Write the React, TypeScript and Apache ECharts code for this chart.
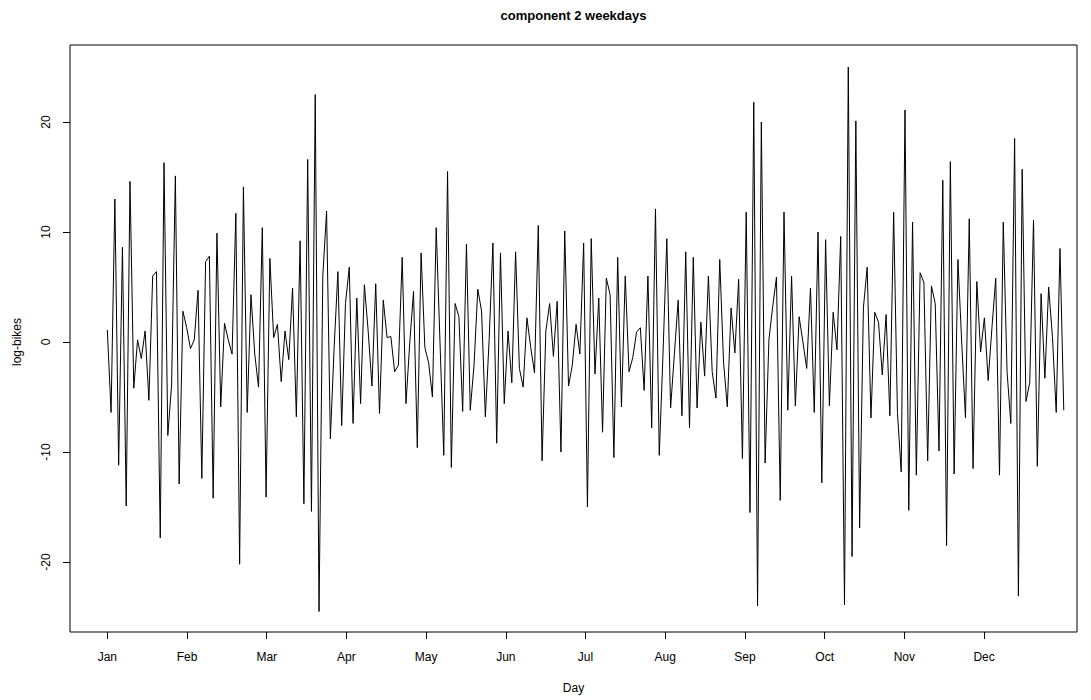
import React, { useEffect, useRef } from "react";
import * as echarts from "echarts";

const title = "component 2 weekdays";
const xTitle = "Day";
const yTitle = "log-bikes";
const monthLabels = ["Jan", "Feb", "Mar", "Apr", "May", "Jun", "Jul", "Aug", "Sep", "Oct", "Nov", "Dec"];
const yTicks = [-20, -10, 0, 10, 20];

const values = [
  1.1, -6.4, 13.0, -11.2, 8.6, -14.9, 14.6, -4.2, 0.2, -1.5,
  1.0, -5.3, 6.0, 6.4, -17.8, 16.3, -8.5, -3.9, 15.1, -12.9,
  2.8, 1.3, -0.6, 0.2, 4.7, -12.4, 7.3, 7.8, -14.2, 9.9,
  -5.9, 1.7, 0.2, -1.1, 11.7, -20.2, 14.1, -6.4, 4.3, -1.1,
  -4.1, 10.4, -14.1, 7.6, 0.4, 1.6, -3.6, 1.0, -1.6, 4.9,
  -6.8, 9.2, -14.7, 16.6, -15.4, 22.5, -24.5, 6.0, 11.9, -8.8,
  -0.5, 6.4, -7.6, 3.5, 6.8, -7.4, 4.0, -5.6, 5.2, 1.0,
  -4.0, 5.3, -6.5, 3.8, 0.4, 0.5, -2.7, -2.1, 7.7, -5.6,
  -0.1, 4.6, -9.6, 8.1, -0.5, -1.9, -5.0, 10.4, 0.0, -10.3,
  15.5, -11.4, 3.5, 2.3, -6.3, 8.9, -6.2, -2.1, 4.8, 2.8,
  -6.8, 0.2, 9.0, -9.2, 8.1, -5.6, 1.0, -3.7, 8.2, -2.4,
  -4.1, 2.2, -0.5, -2.8, 10.6, -10.8, 1.0, 3.5, -1.3, 3.7,
  -10.0, 10.1, -4.0, -2.1, 1.6, -1.1, 9.0, -15.0, 9.4, -2.9,
  4.0, -8.2, 5.8, 4.3, -10.5, 7.7, -5.9, 6.0, -2.7, -1.4,
  0.9, 1.3, -4.4, 6.0, -7.8, 12.1, -10.3, -1.0, 9.4, -6.0,
  -1.1, 3.8, -6.7, 8.2, -7.8, 7.7, -6.0, 1.8, -3.1, 6.0,
  -2.7, -5.1, 7.5, -1.8, -5.9, 3.1, -1.0, 5.7, -10.6, 11.8,
  -15.5, 21.8, -24.0, 20.0, -11.0, 0.2, 3.2, 5.9, -14.4, 11.8,
  -6.2, 6.0, -5.8, 2.3, 0.0, -2.4, 4.9, -6.4, 10.0, -12.8,
  9.3, -5.8, 2.7, -0.7, 9.6, -23.9, 25.0, -19.5, 20.1, -16.9,
  3.1, 6.8, -6.9, 2.7, 1.8, -3.0, 2.5, -6.7, 11.8, -6.4,
  -11.8, 21.1, -15.3, 10.9, -12.1, 6.3, 5.4, -10.8, 5.1, 3.5,
  -9.9, 14.7, -18.5, 16.4, -12.0, 7.5, 0.0, -6.9, 11.2, -11.5,
  5.5, -0.9, 2.2, -3.5, 1.3, 5.8, -12.1, 10.9, -2.7, -7.4,
  18.5, -23.1, 15.7, -5.4, -3.7, 11.1, -11.3, 4.4, -3.3, 5.0,
  0.5, -6.4, 8.5, -6.2,
];

const N = values.length;
const monthStep = (N - 1) / 12;
const monthPositions = monthLabels.map((_, k) => 1 + k * monthStep);

const FONT = "Liberation Sans, Arial, Helvetica, sans-serif";

export default function App() {
  const ref = useRef<HTMLDivElement>(null);
  useEffect(() => {
    if (!ref.current) return;
    const chart = echarts.init(ref.current, null, { renderer: "svg" });
    const gridLeft = 70;
    const gridRight = 14;
    const gridTop = 45;
    const gridBottom = 68;
    const plotCenterX = gridLeft + (1091 - gridLeft - gridRight) / 2;
    chart.setOption({
      animation: false,
      backgroundColor: "#ffffff",
      grid: {
        left: gridLeft,
        right: gridRight,
        top: gridTop,
        bottom: gridBottom,
        show: true,
        borderColor: "#000",
        borderWidth: 1,
        backgroundColor: "transparent",
      },
      xAxis: {
        type: "value",
        position: "bottom",
        min: -8.87,
        max: 257.5,
        axisLine: { show: false, onZero: false },
        splitLine: { show: false },
        axisTick: {
          show: true,
          customValues: monthPositions,
          length: 7,
          lineStyle: { color: "#000", width: 1 },
        },
        axisLabel: {
          show: true,
          customValues: monthPositions,
          margin: 19,
          color: "#000",
          fontFamily: FONT,
          fontSize: 12,
          formatter: (v: number) => {
            const idx = Math.round((v - 1) / monthStep);
            return monthLabels[idx] ?? "";
          },
        },
      },
      yAxis: {
        type: "value",
        position: "left",
        min: -26.36,
        max: 27.0,
        axisLine: { show: false, onZero: false },
        splitLine: { show: false },
        axisTick: {
          show: true,
          customValues: yTicks,
          length: 7,
          lineStyle: { color: "#000", width: 1 },
        },
        axisLabel: {
          show: true,
          customValues: yTicks,
          rotate: 90,
          margin: 18,
          color: "#000",
          fontFamily: FONT,
          fontSize: 12,
          formatter: (v: number) => String(v),
        },
      },
      graphic: [
        {
          type: "text",
          x: plotCenterX,
          y: 15,
          style: {
            text: title,
            fill: "#000",
            font: `bold 13px ${FONT}`,
            textAlign: "center",
            textVerticalAlign: "middle",
          },
        },
        {
          type: "text",
          x: plotCenterX,
          y: 688,
          style: {
            text: xTitle,
            fill: "#000",
            font: `12px ${FONT}`,
            textAlign: "center",
            textVerticalAlign: "middle",
          },
        },
        {
          type: "text",
          x: 17,
          y: 342,
          rotation: Math.PI / 2,
          style: {
            text: yTitle,
            fill: "#000",
            font: `12px ${FONT}`,
            textAlign: "center",
            textVerticalAlign: "middle",
          },
        },
      ],
      series: [
        {
          type: "line",
          data: values.map((v, i) => [i + 1, v]),
          showSymbol: false,
          symbol: "none",
          lineStyle: { color: "#000", width: 1 },
          silent: true,
        },
      ],
    });
    return () => chart.dispose();
  }, []);
  return (
    <div
      ref={ref}
      style={{ position: "fixed", left: 0, top: 0, width: 1091, height: 700, background: "#fff" }}
    />
  );
}
